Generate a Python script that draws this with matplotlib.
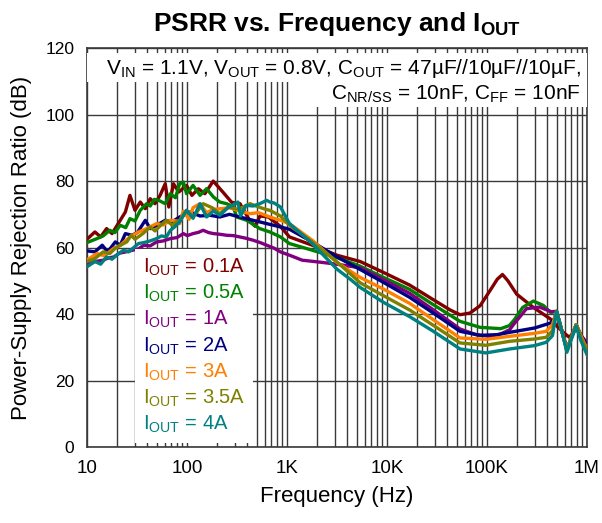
import matplotlib
matplotlib.use("Agg")
import matplotlib.pyplot as plt
from matplotlib.ticker import FixedLocator, LogLocator, NullFormatter
from matplotlib.patches import Rectangle

plt.rcParams['font.family'] = ['Liberation Sans', 'DejaVu Sans']
plt.rcParams['mathtext.fontset'] = 'custom'
plt.rcParams['mathtext.rm'] = 'Liberation Sans'
plt.rcParams['mathtext.it'] = 'Liberation Sans:italic'
plt.rcParams['mathtext.bf'] = 'Liberation Sans:bold'

# ---------------- data ----------------
f_01 = [10, 12, 13.7, 15.7, 17.8, 21.5, 24.2, 26.9, 30.2, 34.1, 38.3, 42.9, 47.9, 53.8, 60.6, 65.8, 73.3,
        82.7, 99, 112, 130, 151, 183, 230, 280, 339, 427, 480, 537, 650, 850, 1060, 1790,
        3160, 5400, 9250, 16900, 28400, 43000, 53800, 67600, 85400, 107000, 127000, 143000, 162000,
        198000, 291000, 432000, 515000, 580000, 667000, 780000, 880000, 1000000]
db_01 = [62.5, 64.7, 63.2, 65.7, 64.2, 68.2, 70.7, 75.7, 71.2, 73.7, 71.7, 74.7, 73.2, 75.7, 79.2, 72.2, 79.2,
         76.7, 78.7, 75.7, 77.7, 76.2, 80, 76.6, 73.6, 73.2, 68, 66.4, 69.5, 69.2, 66.5,
         63.2, 60.7, 57.7, 55.8, 52.5, 48.7, 44.5, 41.2, 39.8, 40.3, 42.5, 47, 50.5, 51.9, 50, 46, 42, 38.5,
         36, 34.5, 33, 35.5, 33.5, 30.5]

f_05 = [10, 12.6, 14.5, 16.9, 19, 21.5, 24.4, 26.9, 30.2, 34.1, 39.5, 42.9, 47.1, 52.1, 60.6, 68.3, 76.7,
        84.4, 92, 99, 115, 135, 157, 184, 213, 249, 291, 314, 396, 535, 673, 861, 1060, 1790, 3160, 5400,
        9250, 16900, 28400, 53800, 85400, 137000, 167000, 187000, 228000, 291000, 366000, 432000, 497000,
        560000, 630000, 700000, 780000, 870000, 1000000]
db_05 = [61.5, 62.7, 63.5, 65.2, 64.5, 66.7, 66, 68.7, 68, 71.2, 73.2, 72.5, 74.5, 74.2, 73.2, 76.2, 75,
         79.2, 79.7, 76.2, 78.7, 75.7, 77.7, 75.2, 73.7, 73.2, 72.2, 69.2, 68.2, 65.7, 64.7, 63.2, 61.2,
         59.2, 57, 54.4, 51, 47.4, 43, 37.8, 36, 35.6, 36.5, 38.2, 42, 43.9, 42.6, 40.5, 40.8, 35, 29.3,
         33, 36.8, 33.5, 30.5]

f_1 = [10, 12, 14.5, 16.1, 18.6, 21.1, 24.4, 28.6, 32.7, 37, 42.9, 49.6, 58, 68.3, 79.3, 92, 100.7, 115,
       131, 145, 165, 184, 213, 249, 291, 336, 389, 459, 540, 627, 745, 861, 1060, 1420, 2150, 3160, 5400,
       9250, 16900, 28400, 53800, 77500, 107000, 137000, 169000, 187000, 218000, 248000, 335000, 440000,
       497000, 560000, 630000, 700000, 780000, 870000, 1000000]
db_1 = [55, 55.8, 56.2, 56.8, 57.2, 58.3, 58.7, 59.2, 59.6, 60.7, 60.5, 61.7, 62, 62.7, 63, 64.2, 63.6,
        64.2, 64.6, 65.2, 64.5, 64.2, 64, 63.7, 63.6, 63.2, 62.8, 62.2, 61.5, 60.7, 59.8, 58.7, 57.7, 56.2,
        55.6, 55, 53.9, 50.3, 46.2, 41.5, 35.5, 33.8, 33.3, 34, 35.3, 37.1, 39.5, 41.6, 42.1, 40.7, 40.8,
        35, 29.3, 33, 36.8, 33.5, 31.4]

f_2 = [10, 12, 14.2, 16.1, 19.2, 21.5, 24.2, 28.1, 31.9, 38.3, 42.9, 49.6, 60.6, 70.8, 84.4, 107.7, 135,
       170, 213, 266, 336, 459, 627, 861, 1060, 1790, 3160, 5400, 9250, 16900, 28400, 53800, 85400,
       127000, 169000, 299000, 432000, 470000, 497000, 560000, 630000, 700000, 780000, 870000, 1000000]
db_2 = [59, 58.7, 60.7, 58.7, 61.7, 60.7, 64.2, 63.7, 64.5, 68.2, 65.7, 66.7, 68.2, 67.7, 69.2, 70.7, 69.5,
        69.7, 69.2, 70, 69.2, 68.2, 67.2, 66.2, 65.5, 61.7, 57.2, 53.4, 49.5, 45, 40.5, 34.8, 33.6, 33.8,
        34.5, 35.8, 37.3, 38.5, 40.8, 35, 29.3, 33, 36.8, 33.5, 30.5]

f_3 = [10, 12.6, 14.9, 18.4, 21.1, 26.9, 32.7, 39.5, 49.6, 58, 68.3, 79.3, 84.4, 92, 105, 115, 135, 157,
       184, 222, 266, 336, 427, 521, 673, 861, 1060, 1790, 3160, 5400, 9250, 16900, 28400, 53800, 97300,
       169000, 299000, 391000, 452000, 497000, 560000, 630000, 700000, 780000, 870000, 1000000]
db_3 = [56.3, 58.2, 57.5, 59.7, 60.5, 63.2, 64.7, 65.7, 67.2, 66.8, 68.2, 68, 67.2, 71, 68.5, 72, 73.2,
        70.5, 71.5, 71.7, 72, 71, 70.2, 70.5, 69.2, 68.2, 67.2, 62.2, 55.5, 51, 47.5, 43.2, 38.5, 32.8,
        32.4, 33.3, 34.2, 34.8, 36.8, 40.8, 35, 29.3, 33, 36.8, 33.5, 29.5]

f_35 = [10, 12, 14.5, 16.9, 19.5, 25, 27.7, 30.2, 36.2, 42.9, 47.9, 53.8, 62.2, 70.8, 79.3, 84.4, 99,
        115, 145, 178, 213, 257, 327, 427, 521, 611, 673, 861, 1060, 1790, 3160, 5400, 9250, 16900,
        28400, 53800, 97300, 169000, 299000, 391000, 452000, 497000, 560000, 630000, 700000, 780000,
        870000, 1000000]
db_35 = [55.8, 56.7, 58.7, 58.2, 60, 61.7, 63.7, 62.5, 64.2, 66.2, 65, 66.5, 68.2, 66.8, 67.8, 68.2, 71.2,
         69.2, 73.2, 72, 70.2, 72.2, 71.5, 73.2, 72.2, 71.5, 71.2, 69.5, 66.7, 61.7, 55.7, 49.4, 45.5,
         41.2, 36.8, 31.3, 30.6, 31.8, 32.5, 33, 35, 40.8, 35, 29, 33, 36.8, 33, 29]

f_4 = [10, 12, 13.7, 15.7, 17.8, 20.3, 23.2, 26.1, 32.7, 37, 42.9, 49.6, 55.5, 62.2, 68.3, 75, 84.4, 99,
       115, 135, 157, 184, 213, 257, 323, 344, 389, 459, 535, 627, 673, 745, 861, 1060, 1790, 3160, 4280,
       5400, 9250, 16900, 28400, 53800, 97300, 169000, 299000, 391000, 452000, 497000, 560000, 630000,
       700000, 780000, 870000, 1000000]
db_4 = [54.2, 55.8, 55, 57.2, 56.5, 58, 59.2, 58.7, 61.2, 61.5, 62, 62.7, 63.5, 63.2, 65.2, 66.2, 67.7,
        71.2, 68.8, 73.2, 69.2, 71, 69.7, 72, 73.7, 69.5, 72.7, 72.5, 73.2, 74.2, 73.7, 73.4, 72.2, 67.2,
        61.2, 53.5, 50.5, 48, 43.5, 39.2, 35, 29.5, 28.3, 29.5, 30.5, 31.5, 33.5, 40.8, 35, 28.5, 32.5,
        36.3, 32, 27.8]

series_labels = ["0.1A", "0.5A", "1A", "2A", "3A", "3.5A", "4A"]
series_colors = ["#800000", "#008000", "#800080", "#000080", "#FF7F00", "#808000", "#008080"]
series_f = [f_01, f_05, f_1, f_2, f_3, f_35, f_4]
series_db = [db_01, db_05, db_1, db_2, db_3, db_35, db_4]

x_ticks = [10, 100, 1000, 10000, 100000, 1000000]
x_tick_labels = ["10", "100", "1K", "10K", "100K", "1M"]
y_ticks = [0, 20, 40, 60, 80, 100, 120]

# ---------------- figure ----------------
fig = plt.figure(figsize=(6.02, 5.23), dpi=100)
ax = fig.add_axes([0.1445, 0.1453, 0.8305, 0.7627])

ax.set_xscale("log")
ax.set_xlim(10, 1e6)
ax.set_ylim(0, 120)

ax.xaxis.set_major_locator(FixedLocator(x_ticks))
ax.set_xticklabels(x_tick_labels)
ax.xaxis.set_minor_locator(LogLocator(base=10, subs=range(2, 10), numticks=20))
ax.xaxis.set_minor_formatter(NullFormatter())
ax.set_yticks(y_ticks)

ax.grid(True, which="major", axis="both", color="#3a3a3a", lw=1.0)
ax.grid(True, which="minor", axis="x", color="#3a3a3a", lw=1.0)
ax.set_axisbelow(True)
ax.tick_params(which="both", length=0, colors="black")
ax.tick_params(axis="x", labelsize=13.5, pad=9)
ax.tick_params(axis="y", labelsize=12.5, pad=9)
for s in ax.spines.values():
    s.set_color("#3a3a3a")
    s.set_linewidth(1.2)

lines = []
for f, d, lab, c in zip(series_f, series_db, series_labels, series_colors):
    ln, = ax.plot(f, d, color=c, lw=2.4, solid_joinstyle="round", zorder=3,
                  label=r"I$_{\mathregular{OUT}}$ = " + lab)
    lines.append(ln)

# annotation boxes
ax.add_patch(Rectangle((0.0, 0.915), 1.0, 0.074, transform=ax.transAxes,
                       facecolor="white", edgecolor="none", zorder=4))
ax.add_patch(Rectangle((0.452, 0.853), 0.548, 0.066, transform=ax.transAxes,
                       facecolor="white", edgecolor="none", zorder=4))
ax.text(0.988, 0.950,
        r"V$_{\mathregular{IN}}$ = 1.1V, V$_{\mathregular{OUT}}$ = 0.8V, C$_{\mathregular{OUT}}$ = 47µF//10µF//10µF,",
        transform=ax.transAxes, ha="right", va="center", fontsize=15, zorder=5)
ax.text(0.988, 0.884,
        r"C$_{\mathregular{NR/SS}}$ = 10nF, C$_{\mathregular{FF}}$ = 10nF",
        transform=ax.transAxes, ha="right", va="center", fontsize=15, zorder=5)

leg = ax.legend(handles=lines, loc="lower left", bbox_to_anchor=(0.096, 0.01), borderaxespad=0,
                handlelength=0, handletextpad=0, labelcolor="linecolor", fontsize=14.5,
                frameon=True, fancybox=False, framealpha=1, facecolor="white", edgecolor="none",
                labelspacing=0.24, borderpad=0.4)
leg.set_zorder(6)

ax.set_title(r"PSRR vs. Frequency and I$_{\mathbf{OUT}}$", fontsize=19, fontweight="bold", pad=12)
ax.set_xlabel("Frequency (Hz)", fontsize=16, labelpad=7)
ax.set_ylabel("Power-Supply Rejection Ratio (dB)", fontsize=16, labelpad=10)

fig.savefig("out.png", dpi=100)
